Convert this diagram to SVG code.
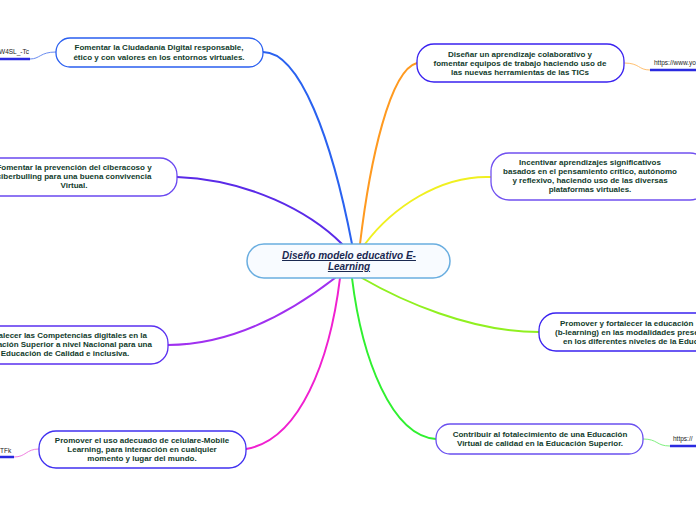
<svg xmlns="http://www.w3.org/2000/svg" width="696" height="520" viewBox="0 0 696 520">
<style>
.node rect{fill:#ffffff;stroke-width:1.3}
.t{font-family:"Liberation Sans",Arial,sans-serif;font-weight:bold;font-size:8px;fill:#123c2c;text-anchor:middle}
.ts{font-family:"Liberation Sans",Arial,sans-serif;font-weight:bold;font-size:8px;fill:#123c2c}
.c{fill:none;stroke-linecap:round;stroke-width:2}
.thin{fill:none;stroke-width:1}
.ul{stroke:#2a2ae0;stroke-width:2.5}
.lk{font-family:"Liberation Sans",Arial,sans-serif;font-size:6.5px;fill:#222}
.ctr{font-family:"Liberation Sans",Arial,sans-serif;font-weight:bold;font-style:italic;font-size:10px;fill:#1a2850;text-anchor:middle;text-decoration:underline}
</style>
<rect width="696" height="520" fill="#ffffff"/>
<g id="connectors">
<path class="c" stroke="#2a62f0" d="M263,52 C300,52 332,140 352,244"/>
<path class="c" stroke="#ff9a20" d="M417,63 C390,70 370,160 360,244"/>
<path class="c" stroke="#5a2ae8" d="M177,177 C250,180 310,212 342,244"/>
<path class="c" stroke="#f0f020" d="M491,177 C440,175 392,208 365,244"/>
<path class="c" stroke="#a030f0" d="M168,345 C240,345 300,305 335,278"/>
<path class="c" stroke="#90f020" d="M539,332 C470,332 400,300 362,278"/>
<path class="c" stroke="#30f030" d="M436,439 C392,436 362,360 352,278"/>
<path class="c" stroke="#f020d0" d="M246,449 C300,440 330,360 340,278"/>
<path class="thin" stroke="#6a8cf0" d="M56,52 C40,52 40,59 30,59"/>
<path class="thin" stroke="#ffc070" d="M624,63 C640,63 638,70 650,70"/>
<path class="thin" stroke="#80f080" d="M643,439 C658,439 656,446 670,446"/>
<path class="thin" stroke="#f080e0" d="M39,449 C26,449 26,457 14,457"/>
<line class="ul" x1="0" y1="59" x2="30" y2="59"/>
<line class="ul" x1="650" y1="70" x2="696" y2="70"/>
<line class="ul" x1="670" y1="446" x2="696" y2="446"/>
<line class="ul" x1="0" y1="457" x2="14" y2="457"/>
</g>
<g id="link1"><text class="lk" x="-1" y="54">W4SL_-Tc</text></g>
<g id="link2"><text class="lk" x="654" y="65">https://www.yo</text></g>
<g id="link3"><text class="lk" x="673" y="441">https://</text></g>
<g id="link4"><text class="lk" x="0" y="453">TFk</text></g>
<g id="center" class="node">
<rect x="247" y="244" width="203" height="34" rx="17" fill="#f8fbff" stroke="#6aaee0" style="fill:#f8fbff;stroke-width:1.5"/>
<text class="ctr" x="349" y="259">Diseño modelo educativo E-</text>
<text class="ctr" x="349" y="270">Learning</text>
</g>
<g id="n1" class="node">
<rect x="56" y="38" width="207" height="29" rx="14" stroke="#2a5ff0"/>
<text class="t" x="159" y="50">Fomentar la Ciudadanía Digital responsable,</text>
<text class="t" x="159" y="60">ético y con valores en los entornos virtuales.</text>
</g>
<g id="n2" class="node">
<rect x="417" y="44" width="207" height="38" rx="17" stroke="#3a22f0"/>
<text class="t" x="520" y="57">Diseñar un aprendizaje colaborativo y</text>
<text class="t" x="520" y="66">fomentar equipos de trabajo haciendo uso de</text>
<text class="t" x="520" y="75">las nuevas herramientas de las TICs</text>
</g>
<g id="n3" class="node">
<rect x="-40" y="158" width="217" height="38" rx="17" stroke="#6a48f0"/>
<text class="t" x="74" y="170">Fomentar la prevención del ciberacoso y</text>
<text class="t" x="74" y="179">ciberbulling para una buena convivencia</text>
<text class="t" x="74" y="188">Virtual.</text>
</g>
<g id="n4" class="node">
<rect x="491" y="153" width="217" height="47" rx="18" stroke="#7050f0"/>
<text class="t" x="590" y="165">Incentivar aprendizajes significativos</text>
<text class="t" x="590" y="174">basados en el pensamiento crítico, autónomo</text>
<text class="t" x="590" y="183">y reflexivo, haciendo uso de las diversas</text>
<text class="t" x="590" y="192">plataformas virtuales.</text>
</g>
<g id="n5" class="node">
<rect x="-40" y="326" width="208" height="38" rx="17" stroke="#5a30f0"/>
<text class="t" x="65" y="338">Fortalecer las Competencias digitales en la</text>
<text class="t" x="65" y="347">Educación Superior a nivel Nacional para una</text>
<text class="t" x="65" y="356">Educación de Calidad e inclusiva.</text>
</g>
<g id="n6" class="node">
<rect x="539" y="313" width="180" height="38" rx="17" stroke="#3a22f0"/>
<text class="ts" x="560" y="326">Promover y fortalecer la educación</text>
<text class="ts" x="555" y="335">(b-learning)  en las modalidades presenciales</text>
<text class="ts" x="563" y="344">en los diferentes niveles de la Educación</text>
</g>
<g id="n7" class="node">
<rect x="436" y="424" width="207" height="30" rx="14" stroke="#6a50f0"/>
<text class="t" x="540" y="437">Contribuir al fotalecimiento de una Educación</text>
<text class="t" x="540" y="446">Virtual de calidad en la Educación Superior.</text>
</g>
<g id="n8" class="node">
<rect x="39" y="431" width="207" height="37" rx="17" stroke="#4030f0"/>
<text class="t" x="142" y="443">Promover el uso adecuado de celulare-Mobile</text>
<text class="t" x="142" y="452">Learning, para interacción en cualquier</text>
<text class="t" x="142" y="461">momento y lugar del mundo.</text>
</g>
</svg>
